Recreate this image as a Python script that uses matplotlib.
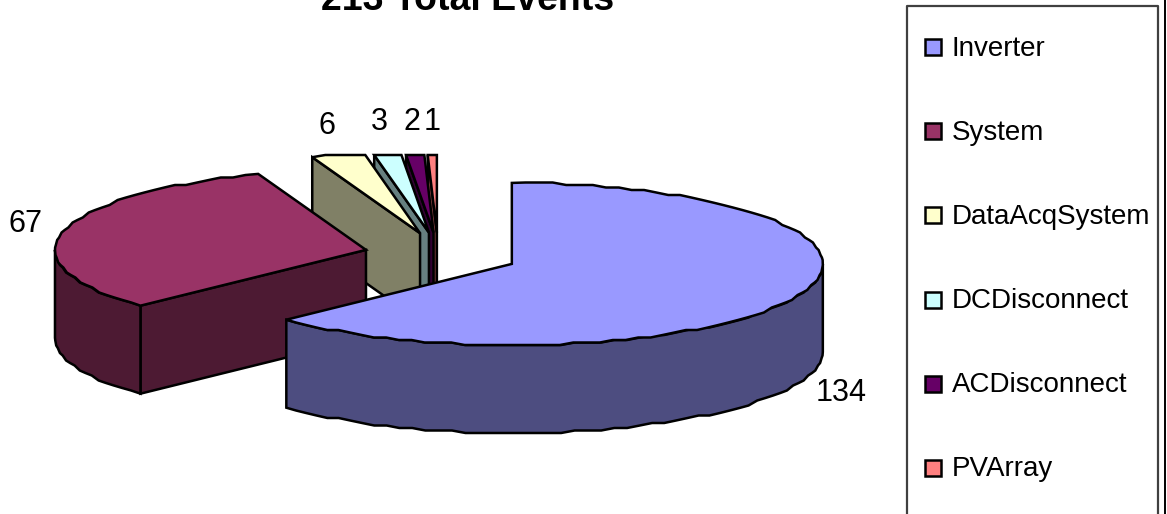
# -*- coding: utf-8 -*-
"""
Exploded 3D looking pie of the 213 events, drawn by hand with polygons
because matplotlib has no 3D pie.
"""
import numpy as np
from matplotlib import pyplot as plt
from matplotlib.patches import Rectangle

#The data
names = ["Inverter", "System", "DataAcqSystem", "DCDisconnect", "ACDisconnect", "PVArray"]
counts = [134, 67, 6, 3, 2, 1]
top_colors = ["#9999FF", "#993366", "#FFFFCC", "#CCFFFF", "#660066", "#FF8080"]
side_colors = ["#4D4D80", "#4D1A33", "#808066", "#668080", "#330033", "#804040"]
title = "213 Total Events"

#Layout, everything in pixels of the output picture
center_x, center_y = 442, 255
rx, ry = 311, 81
depth = 88
explode_x, explode_y = 76, 22.6
nudge_x = [0, -2, -2, -3, -4, -4]
top_limit = 155
count_xy = [(841, 393), (26, 224), (327, 126), (379.5, 122), (412, 122), (432, 122)]
line = 1.8

plt.rcParams['font.family'] = ['Liberation Sans', 'DejaVu Sans']
fig = plt.figure(figsize=(11.67, 5.14), dpi=100)
ax = fig.add_axes([0, 0, 1, 1])
ax.set_xlim(0, 1167)
ax.set_ylim(514, 0)
ax.axis("off")


#The rim of the pie, rounded a bit to get the scalloped edge of the original
def arc(cx, cy, a0, a1):
    n = max(int(abs(a1 - a0) / 2.5), 1)
    t = np.radians(np.linspace(a0, a1, n + 1))
    x = cx + rx * np.sin(t)
    y = cy - ry * np.cos(t)
    y[1:-1] = np.round(y[1:-1] / 2.5) * 2.5
    return x, y


def poly(x, y, color):
    ax.fill(x, y, facecolor=color, edgecolor="black", linewidth=line, joinstyle="miter")


#Start and end angle of each slice, clockwise from the top
counts_arr = np.array(counts, dtype=float)
ends = np.cumsum(counts_arr) / counts_arr.sum() * 360
starts = ends - counts_arr / counts_arr.sum() * 360

#Back slices first so the front ones paint over them
for i in range(len(counts) - 1, -1, -1):
    a0, a1 = starts[i], ends[i]
    mid = np.radians((a0 + a1) / 2)
    cx = center_x + explode_x * np.sin(mid) + nudge_x[i]
    cy = center_y - explode_y * np.cos(mid)
    x, y = arc(cx, cy, a0, a1)

    #Flat side at the start of the slice, only seen on the left half
    if a0 > 180:
        sx = cx + rx * np.sin(np.radians(a0))
        sy = max(cy - ry * np.cos(np.radians(a0)), top_limit)
        poly([cx, sx, sx, cx], [cy, sy, sy + depth, cy + depth], side_colors[i])

    #Outer wall, only the part of the rim that faces us
    w0, w1 = max(a0, 90), min(a1, 270)
    if w0 < w1:
        wx, wy = arc(cx, cy, w0, w1)
        poly(np.r_[wx, wx[::-1]], np.r_[wy, wy[::-1] + depth], side_colors[i])

    #Top of the slice
    poly(np.r_[cx, x], np.maximum(np.r_[cy, y], top_limit), top_colors[i])

#The counts
for (tx, ty), c in zip(count_xy, counts):
    ax.text(tx, ty, str(c), fontsize=22, ha="center", va="center", color="black")

#The title runs off the top of the picture in the original
ax.text(468, 9.5, title, fontsize=27, fontweight="bold", ha="center", va="baseline",
        color="black")

#The legend box also runs off the bottom
ax.plot([907, 907, 1158, 1158], [520, 6, 6, 520], color="#404040", linewidth=1.6)
ax.plot([1164.5, 1164.5], [0, 514], color="black", linewidth=1.4)
for i, name in enumerate(names):
    ly = 47 + 84.2 * i
    ax.add_patch(Rectangle((924.5, ly - 8), 16, 16, facecolor=top_colors[i],
                           edgecolor="black", linewidth=1.8))
    ax.text(952, ly - 1.5, name, fontsize=20, ha="left", va="center_baseline", color="black")

plt.savefig("out.png", dpi=100)
